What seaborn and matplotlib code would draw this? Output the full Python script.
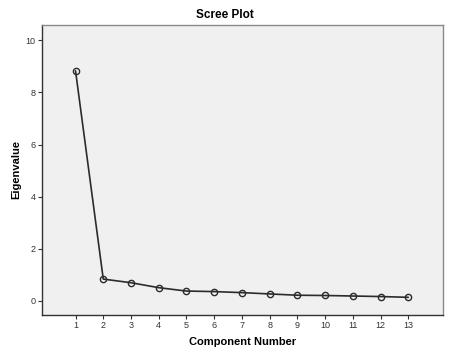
import matplotlib
matplotlib.use("Agg")
import matplotlib.pyplot as plt
import seaborn as sns
import pandas as pd

components = [1, 2, 3, 4, 5, 6, 7, 8, 9, 10, 11, 12, 13]
eigenvalues = [8.83, 0.84, 0.70, 0.51, 0.38, 0.36, 0.32, 0.27, 0.22, 0.21, 0.19, 0.17, 0.14]
yticks = [0, 2, 4, 6, 8, 10]

df = pd.DataFrame({"Component Number": components, "Eigenvalue": eigenvalues})

sns.set_theme(style="white")
plt.rcParams["font.family"] = ["Liberation Sans", "DejaVu Sans"]

fig = plt.figure(figsize=(4.49, 3.58), dpi=100)
ax = fig.add_axes([0.0935, 0.120, 0.893, 0.811])
ax.set_facecolor("#F0F0F0")

sns.lineplot(data=df, x="Component Number", y="Eigenvalue", ax=ax,
             color="#2b2b2b", linewidth=1.2, marker="o", markersize=4.5,
             markerfacecolor="none", markeredgecolor="#2b2b2b", markeredgewidth=1.0)

ax.set_xlim(-0.21, 14.25)
ax.set_ylim(-0.54, 10.6)
ax.set_xticks(components)
ax.set_xticklabels([str(c) for c in components])
ax.set_yticks(yticks)
ax.set_yticklabels([str(t) for t in yticks])
ax.tick_params(axis="both", which="major", direction="out", length=3, width=0.8,
               colors="#333333", labelsize=6.5, pad=1.5, bottom=True, left=True)

for side in ["left", "bottom"]:
    ax.spines[side].set_color("#333333")
    ax.spines[side].set_linewidth(1.0)
for side in ["top", "right"]:
    ax.spines[side].set_color("#8a8a8a")
    ax.spines[side].set_linewidth(1.0)

ax.set_xlabel("Component Number", fontsize=8, fontweight="bold", color="black")
ax.set_ylabel("Eigenvalue", fontsize=8, fontweight="bold", color="black")
ax.xaxis.set_label_coords(0.5, -0.093)
ax.yaxis.set_label_coords(-0.064, 0.5)
ax.xaxis.label.set_va("center")
ax.yaxis.label.set_va("center")
fig.text(0.5, 0.958, "Scree Plot", ha="center", va="center", fontsize=8.5,
         fontweight="bold", color="black")

fig.savefig("out.png", dpi=100)
